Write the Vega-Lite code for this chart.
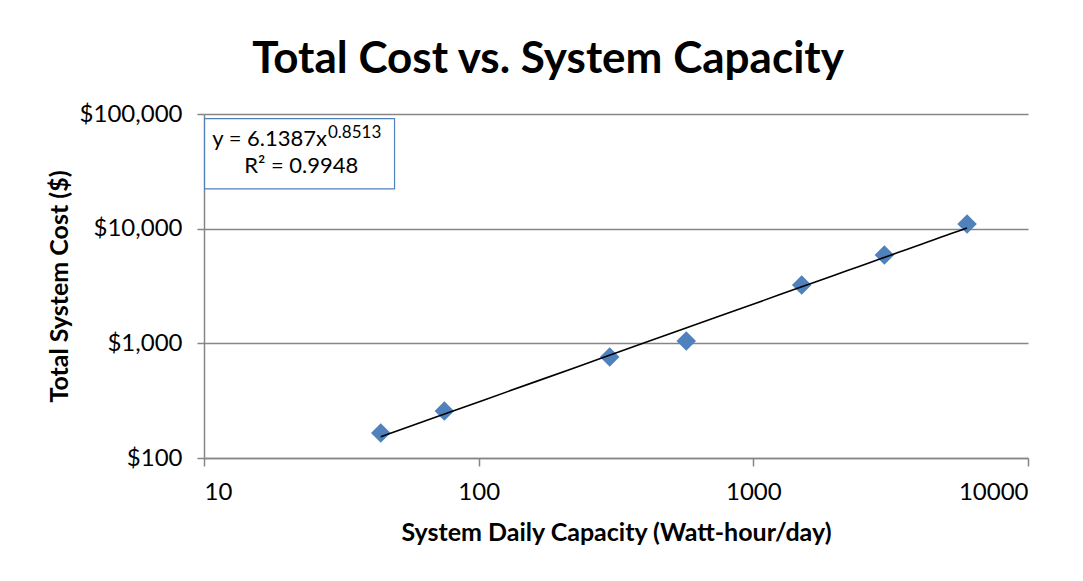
{
  "$schema": "https://vega.github.io/schema/vega-lite/v6.json",
  "width": 824,
  "height": 344,
  "autosize": "none",
  "padding": {"left": 204, "top": 114, "right": 55, "bottom": 123},
  "background": "white",
  "config": {"view": {"stroke": null}, "font": "Lato"},
  "title": {
    "text": "Total Cost vs. System Capacity",
    "font": "Lato",
    "fontSize": 44,
    "fontWeight": "bold",
    "color": "black",
    "anchor": "middle",
    "dx": -68,
    "offset": 20
  },
  "datasets": {
    "points": [
      {"capacity": 44, "cost": 165},
      {"capacity": 75, "cost": 257},
      {"capacity": 300, "cost": 760},
      {"capacity": 570, "cost": 1046},
      {"capacity": 1500, "cost": 3220},
      {"capacity": 3000, "cost": 5890},
      {"capacity": 6000, "cost": 10970}
    ],
    "box": [{"x1": 10.05, "x2": 49.4, "y1": 91000, "y2": 22200}],
    "eq": [{"label": "y = 6.1387x", "sup": "0.8513", "r2": "R² = 0.9948"}]
  },
  "layer": [
    {
      "data": {"name": "points"},
      "mark": {"type": "point", "shape": "diamond", "filled": true, "color": "#4F81BD", "size": 380, "opacity": 1},
      "encoding": {
        "x": {
          "field": "capacity",
          "type": "quantitative",
          "scale": {"type": "log", "domain": [10, 10000], "nice": false},
          "axis": {
            "values": [10, 100, 1000, 10000],
            "format": "d",
            "grid": false,
            "labelFont": "Lato",
            "labelFontSize": 24,
            "labelColor": "black",
            "labelPadding": 14,
            "tickSize": 8,
            "tickColor": "#868686",
            "tickWidth": 1.5,
            "domainColor": "#868686",
            "domainWidth": 1.5,
            "title": "System Daily Capacity (Watt-hour/day)",
            "titleFont": "Lato",
            "titleFontSize": 25,
            "titleFontWeight": "bold",
            "titleColor": "black",
            "titlePadding": 16
          }
        },
        "y": {
          "field": "cost",
          "type": "quantitative",
          "scale": {"type": "log", "domain": [100, 100000], "nice": false},
          "axis": {
            "values": [100, 1000, 10000, 100000],
            "format": "$,d",
            "grid": true,
            "gridColor": "#868686",
            "gridWidth": 1.5,
            "labelFont": "Lato",
            "labelFontSize": 24,
            "labelColor": "black",
            "labelPadding": 15,
            "tickSize": 7,
            "tickColor": "#868686",
            "tickWidth": 1.5,
            "domainColor": "#868686",
            "domainWidth": 1.5,
            "title": "Total System Cost ($)",
            "titleFont": "Lato",
            "titleFontSize": 25,
            "titleFontWeight": "bold",
            "titleColor": "black",
            "titlePadding": 7
          }
        }
      }
    },
    {
      "data": {"name": "points"},
      "transform": [{"regression": "cost", "on": "capacity", "method": "pow"}],
      "mark": {"type": "line", "color": "black", "strokeWidth": 1.6},
      "encoding": {
        "x": {"field": "capacity", "type": "quantitative"},
        "y": {"field": "cost", "type": "quantitative"}
      }
    },
    {
      "data": {"name": "box"},
      "mark": {"type": "rect", "fill": "white", "stroke": "#4F81BD", "strokeWidth": 1.2},
      "encoding": {
        "x": {"field": "x1", "type": "quantitative"},
        "x2": {"field": "x2"},
        "y": {"field": "y1", "type": "quantitative"},
        "y2": {"field": "y2"}
      }
    },
    {
      "data": {"name": "eq"},
      "mark": {"type": "text", "align": "right", "baseline": "middle", "font": "Lato", "fontSize": 22, "color": "black", "dy": 2},
      "encoding": {
        "text": {"field": "label"},
        "x": {"datum": 28.04},
        "y": {"datum": 62900}
      }
    },
    {
      "data": {"name": "eq"},
      "mark": {"type": "text", "align": "left", "baseline": "middle", "font": "Lato", "fontSize": 17, "color": "black", "dx": 1, "dy": -4},
      "encoding": {
        "text": {"field": "sup"},
        "x": {"datum": 28.04},
        "y": {"datum": 62900}
      }
    },
    {
      "data": {"name": "eq"},
      "mark": {"type": "text", "align": "center", "baseline": "middle", "font": "Lato", "fontSize": 22, "color": "black", "dy": 1},
      "encoding": {
        "text": {"field": "r2"},
        "x": {"datum": 22.6},
        "y": {"datum": 35800}
      }
    }
  ]
}
